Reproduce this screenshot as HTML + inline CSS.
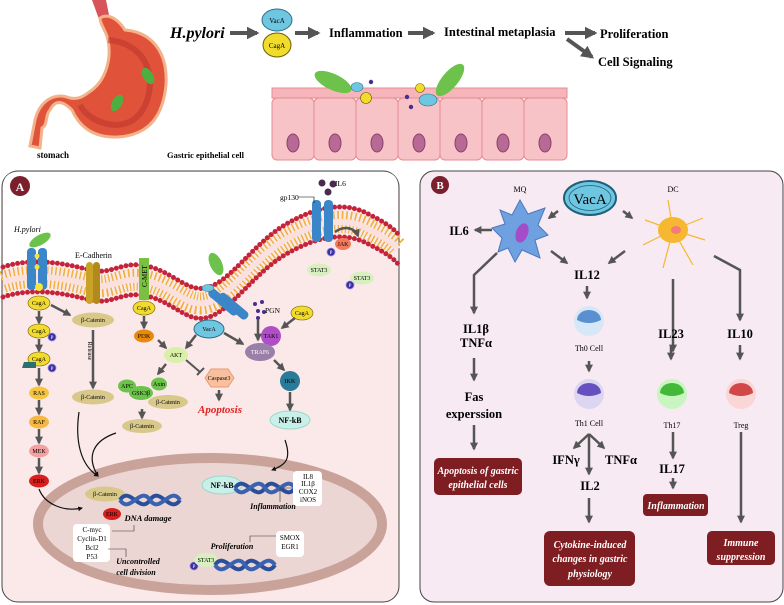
<!DOCTYPE html>
<html><head><meta charset="utf-8"><style>
body{margin:0;background:#fff}
svg{display:block}
text{font-family:"Liberation Serif",serif}
.b{font-weight:bold}
.s{font-size:7px;text-anchor:middle}
</style></head><body>
<svg width="784" height="605" viewBox="0 0 784 605" xmlns="http://www.w3.org/2000/svg">
<defs>
<marker id="ah" viewBox="0 0 10 10" refX="8" refY="5" markerWidth="3.2" markerHeight="3.2" orient="auto"><path d="M0,0L10,5L0,10z" fill="#555"/></marker>
<marker id="ak" viewBox="0 0 10 10" refX="8" refY="5" markerWidth="4" markerHeight="4" orient="auto"><path d="M0,0L10,5L0,10z" fill="#111"/></marker>
<g id="dna"><path d="M0,10 C10,-5 20,25 30,10 C40,-5 50,25 60,10" fill="none" stroke="#2a4f9a" stroke-width="4"/><path d="M0,10 C10,25 20,-5 30,10 C40,25 50,-5 60,10" fill="none" stroke="#3a62b0" stroke-width="4"/></g>
</defs>

<!-- TOP: stomach -->
<path d="M92,0 L106,0 L110,20 L100,22 Z" fill="#d9535a"/>
<path d="M100,18 C110,12 120,22 125,30 C150,32 168,50 166,85 C163,115 150,135 118,137 C95,138 80,128 72,110 C62,100 55,100 50,110 C45,115 48,125 42,128 L40,148 L30,146 L35,120 C40,100 55,92 70,98 C80,100 85,95 92,90 C105,80 112,60 108,40 C106,30 100,25 100,18 Z" fill="#e0533a" stroke="#f2b38a" stroke-width="3"/>
<path d="M108,40 C130,42 150,55 150,85 C148,110 135,125 115,125 C98,124 85,115 80,105" fill="none" stroke="#b8322a" stroke-width="6" opacity=".5"/>
<ellipse cx="148" cy="76" rx="5" ry="9" fill="#4caf3f" transform="rotate(-30 148 76)"/>
<ellipse cx="117" cy="103" rx="5" ry="9" fill="#4caf3f" transform="rotate(30 117 103)"/>
<text x="37" y="158" font-size="9" class="b">stomach</text>
<text x="167" y="158" font-size="8.5" class="b">Gastric epithelial cell</text>

<text x="170" y="38" font-size="16" font-weight="bold" font-style="italic">H.pylori</text>
<path d="M230,33 L257,33" stroke="#555" stroke-width="4" marker-end="url(#ah)"/>
<ellipse cx="277" cy="20" rx="15" ry="11" fill="#6ec6e0" stroke="#2b6f8a"/>
<text x="277" y="23" class="s" font-size="7">VacA</text>
<ellipse cx="277" cy="45" rx="14" ry="12" fill="#f1dc2e" stroke="#6b5c00"/>
<text x="277" y="48" class="s" font-size="7">CagA</text>
<path d="M295,33 L318,33" stroke="#555" stroke-width="4" marker-end="url(#ah)"/>
<text x="329" y="37" font-size="12.5" class="b">Inflammation</text>
<path d="M408,33 L433,33" stroke="#555" stroke-width="4" marker-end="url(#ah)"/>
<text x="444" y="36" font-size="12.5" class="b">Intestinal metaplasia</text>
<path d="M565,33 L595,33" stroke="#555" stroke-width="4" marker-end="url(#ah)"/>
<path d="M567,39 L592,57" stroke="#555" stroke-width="4" marker-end="url(#ah)"/>
<text x="600" y="38" font-size="12.5" class="b">Proliferation</text>
<text x="598" y="66" font-size="12.5" class="b">Cell Signaling</text>

<!-- epithelial -->
<g fill="#f8c3c6" stroke="#e58b92" stroke-width="1">
<rect x="272" y="88" width="295" height="10" fill="#f6b5bb"/>
<rect x="272" y="98" width="42" height="62" rx="5"/><rect x="314" y="98" width="42" height="62" rx="5"/><rect x="356" y="98" width="42" height="62" rx="5"/><rect x="398" y="98" width="42" height="62" rx="5"/><rect x="440" y="98" width="42" height="62" rx="5"/><rect x="482" y="98" width="42" height="62" rx="5"/><rect x="524" y="98" width="43" height="62" rx="5"/>
</g>
<g fill="#b86a96" stroke="#8c3f6c"><ellipse cx="293" cy="143" rx="6" ry="9"/><ellipse cx="335" cy="143" rx="6" ry="9"/><ellipse cx="377" cy="143" rx="6" ry="9"/><ellipse cx="419" cy="143" rx="6" ry="9"/><ellipse cx="461" cy="143" rx="6" ry="9"/><ellipse cx="503" cy="143" rx="6" ry="9"/><ellipse cx="545" cy="143" rx="6" ry="9"/></g>
<ellipse cx="333" cy="82" rx="20" ry="8" fill="#6cc24a" transform="rotate(25 333 82)"/>
<ellipse cx="450" cy="80" rx="8" ry="20" fill="#6cc24a" transform="rotate(40 450 80)"/>
<ellipse cx="357" cy="87" rx="6" ry="4.5" fill="#6ec6e0" stroke="#2b6f8a" stroke-width=".6"/>
<circle cx="366" cy="98" r="5.5" fill="#f1dc2e" stroke="#6b5c00" stroke-width=".6"/>
<ellipse cx="428" cy="100" rx="9" ry="6" fill="#6ec6e0" stroke="#2b6f8a" stroke-width=".6"/>
<circle cx="420" cy="88" r="4.5" fill="#f1dc2e" stroke="#6b5c00" stroke-width=".6"/>
<g fill="#4a2b90"><circle cx="371" cy="82" r="2.2"/><circle cx="407" cy="97" r="2.2"/><circle cx="411" cy="107" r="2.2"/></g>

<!-- PANEL A -->
<rect x="2" y="171" width="397" height="431" rx="16" fill="#fbe9e9" stroke="#444" stroke-width="1"/>
<path d="M3,267 C30,258 60,262 90,270 C110,275 120,263 140,265 C170,268 185,292 205,288 C230,284 255,240 290,222 C315,208 345,200 370,215 C385,222 395,230 398,234 L398,185 C398,176 390,172 385,172 L17,172 C8,172 3,178 3,187 Z" fill="#fff"/>
<path d="M3,267 C30,258 60,262 90,270 C110,275 120,263 140,265 C170,268 185,292 205,288 C230,284 255,240 290,222 C315,208 345,200 370,215 C385,222 395,230 398,234" fill="none" stroke="#f0b040" stroke-width="22" stroke-dasharray="1.5 2.5" transform="translate(0,15)"/>
<path d="M3,267 C30,258 60,262 90,270 C110,275 120,263 140,265 C170,268 185,292 205,288 C230,284 255,240 290,222 C315,208 345,200 370,215 C385,222 395,230 398,234" fill="none" stroke="#fbe0e0" stroke-width="6" transform="translate(0,15)"/>
<path d="M3,267 C30,258 60,262 90,270 C110,275 120,263 140,265 C170,268 185,292 205,288 C230,284 255,240 290,222 C315,208 345,200 370,215 C385,222 395,230 398,234" fill="none" stroke="#c4233a" stroke-width="5" stroke-linecap="round" stroke-dasharray="0 5"/>
<path d="M3,267 C30,258 60,262 90,270 C110,275 120,263 140,265 C170,268 185,292 205,288 C230,284 255,240 290,222 C315,208 345,200 370,215 C385,222 395,230 398,234" fill="none" stroke="#c4233a" stroke-width="5" stroke-linecap="round" stroke-dasharray="0 5" transform="translate(0,30)"/>
<circle cx="20" cy="186" r="10" fill="#7a1f2b"/><text x="20" y="191" font-size="12" class="b" fill="#fff" text-anchor="middle">A</text>

<!-- nucleus -->
<ellipse cx="210" cy="524" rx="172" ry="66" fill="#ecd6d3" stroke="#c9a39a" stroke-width="10"/>

<!-- receptors -->
<rect x="27" y="248" width="9" height="42" rx="4" fill="#3a86c8"/><rect x="38" y="248" width="9" height="42" rx="4" fill="#3a86c8"/>
<circle cx="37" cy="256" r="2.5" fill="#f5e23a"/><circle cx="37" cy="267" r="2.5" fill="#f5e23a"/><circle cx="39" cy="287" r="4" fill="#f5e23a"/>
<ellipse cx="40" cy="240" rx="12" ry="5" fill="#6cc24a" transform="rotate(-30 40 240)"/>
<text x="14" y="232" font-size="8" font-style="italic">H.pylori</text>
<text x="75" y="258" font-size="8">E-Cadherin</text>
<rect x="86" y="262" width="7" height="42" rx="3.5" fill="#c9a227"/><rect x="93" y="262" width="7" height="42" rx="3.5" fill="#b08a1a"/>
<rect x="139" y="258" width="10" height="42" fill="#7ac142"/>
<text x="147" y="287" font-size="7" transform="rotate(-90 147 287)">C-MET</text>
<rect x="312" y="200" width="9" height="42" rx="4" fill="#3a86c8"/><rect x="324" y="200" width="9" height="42" rx="4" fill="#3a86c8"/>
<g fill="#4a2b4f"><circle cx="322" cy="183" r="3.5"/><circle cx="328" cy="192" r="3.5"/><circle cx="333" cy="184" r="3.5"/></g>
<text x="335" y="186" font-size="7.5">IL6</text><text x="280" y="200" font-size="7.5">gp130</text>
<path d="M298,197 L314,197 L314,203" stroke="#000" fill="none" stroke-width=".6"/>
<rect x="216" y="286" width="9" height="36" rx="4" fill="#3a86c8" transform="rotate(-50 220 300)"/>
<rect x="226" y="290" width="9" height="36" rx="4" fill="#3a86c8" transform="rotate(-50 230 304)"/>
<ellipse cx="216" cy="264" rx="6" ry="12" fill="#6cc24a" transform="rotate(-25 216 264)"/>
<ellipse cx="208" cy="288" rx="6" ry="3.5" fill="#6ec6e0" stroke="#2b6f8a" stroke-width=".5"/>
<g fill="#4a2b90"><circle cx="255" cy="304" r="2"/><circle cx="262" cy="302" r="2"/><circle cx="258" cy="311" r="2"/><circle cx="264" cy="312" r="2"/><circle cx="258" cy="318" r="2"/></g>
<text x="265" y="313" font-size="7.5">PGN</text>

<g font-size="6" text-anchor="middle">
<g fill="#f1dc2e" stroke="#6b5c00" stroke-width=".6"><ellipse cx="39" cy="303" rx="11" ry="7"/><ellipse cx="39" cy="331" rx="11" ry="7"/><ellipse cx="39" cy="359" rx="11" ry="7"/><ellipse cx="144" cy="308" rx="11" ry="7"/><ellipse cx="302" cy="313" rx="11" ry="7"/></g>
<text x="39" y="305">CagA</text><text x="39" y="333">CagA</text><text x="39" y="361">CagA</text><text x="144" y="310">CagA</text><text x="302" y="315">CagA</text>
<g fill="#3b2fa0" stroke="#9a8be0" stroke-width=".8"><circle cx="52" cy="337" r="4"/><circle cx="52" cy="368" r="4"/><circle cx="331" cy="252" r="4"/><circle cx="350" cy="285" r="4"/><circle cx="194" cy="566" r="4"/></g>
<g fill="#fff" font-size="5"><text x="52" y="339">P</text><text x="52" y="370">P</text><text x="331" y="254">P</text><text x="350" y="287">P</text><text x="194" y="568">P</text></g>
<path d="M22,368 h14 v-6 h-12 z" fill="#2b6f6f"/>
<ellipse cx="39" cy="393" rx="10" ry="6.5" fill="#f5c542"/><text x="39" y="395">RAS</text>
<ellipse cx="39" cy="422" rx="10" ry="6.5" fill="#f5b842"/><text x="39" y="424">RAF</text>
<ellipse cx="39" cy="451" rx="10" ry="6.5" fill="#f5a0a0"/><text x="39" y="453">MEK</text>
<ellipse cx="39" cy="481" rx="10" ry="6.5" fill="#d81e1e"/><text x="39" y="483">ERK</text>
<g fill="#d8c98a"><ellipse cx="93" cy="320" rx="21" ry="7.5"/><ellipse cx="93" cy="397" rx="21" ry="7.5"/><ellipse cx="168" cy="402" rx="20" ry="7"/><ellipse cx="142" cy="426" rx="20" ry="7"/><ellipse cx="105" cy="494" rx="20" ry="7.5"/></g>
<text x="93" y="322">β-Catenin</text><text x="93" y="399">β-Catenin</text><text x="168" y="404">β-Catenin</text><text x="142" y="428">β-Catenin</text><text x="105" y="496">β-Catenin</text>
<text x="88" y="351" transform="rotate(90 88 351)">Release</text>
<ellipse cx="144" cy="336" rx="10" ry="6.5" fill="#e8890c"/><text x="144" y="338">PI3K</text>
<ellipse cx="176" cy="355" rx="12" ry="8" fill="#d8f0a8"/><text x="176" y="357">AKT</text>
<g fill="#6cc24a"><ellipse cx="127" cy="386" rx="9" ry="6.5"/><ellipse cx="159" cy="384" rx="8" ry="6.5"/><ellipse cx="141" cy="393" rx="12" ry="7"/></g>
<text x="127" y="388">APC</text><text x="159" y="386">Axin</text><text x="141" y="395">GSK3β</text>
<polygon points="205,378 211,369 228,369 234,378 228,387 211,387" fill="#f9c0a0" stroke="#e89a70"/><text x="219" y="380">Caspase3</text>
<ellipse cx="209" cy="329" rx="15" ry="9" fill="#6ec6e0" stroke="#2b6f8a"/><text x="209" y="331">VacA</text>
<circle cx="271" cy="336" r="10" fill="#b04ec8"/><text x="271" y="338">TAK1</text>
<ellipse cx="260" cy="352" rx="15" ry="9" fill="#9a7fa8"/><text x="260" y="354" fill="#fff">TRAF6</text>
<circle cx="290" cy="381" r="10" fill="#2a7a9a"/><text x="290" y="383">IKK</text>
<ellipse cx="290" cy="420" rx="20" ry="9" fill="#c8f0e8" stroke="#9ad8cc"/><text x="290" y="423" font-size="8" class="b">NF-kB</text>
<ellipse cx="222" cy="485" rx="20" ry="9" fill="#c8f0e8" stroke="#9ad8cc"/><text x="222" y="488" font-size="8" class="b">NF-kB</text>
<ellipse cx="343" cy="244" rx="8" ry="6" fill="#f47a5a"/><text x="343" y="246">JAK</text>
<ellipse cx="319" cy="270" rx="12" ry="6.5" fill="#d8f0c0"/><text x="319" y="272">STAT3</text>
<ellipse cx="362" cy="278" rx="12" ry="6.5" fill="#d8f0c0"/><text x="362" y="280">STAT3</text>
<ellipse cx="206" cy="560" rx="12" ry="7" fill="#d8f0c0"/><text x="206" y="562">STAT3</text>
<ellipse cx="112" cy="514" rx="9" ry="6" fill="#d81e1e"/><text x="112" y="516">ERK</text>
</g>
<text x="220" y="413" font-size="11" fill="#e02020" font-style="italic" font-weight="bold" text-anchor="middle">Apoptosis</text>
<path d="M335,232 C345,225 355,228 358,236" fill="none" stroke="#555" stroke-width="2.5" marker-end="url(#ah)"/>

<g stroke="#555" stroke-width="2.5" fill="none" marker-end="url(#ah)">
<path d="M39,311 v12"/><path d="M39,339 v12"/><path d="M39,368 v17"/><path d="M39,400 v14"/><path d="M39,429 v14"/><path d="M39,458 v15"/>
<path d="M51,305 L70,315"/><path d="M93,330 v58"/><path d="M144,316 v12"/><path d="M158,340 L166,348"/><path d="M196,335 L186,348"/><path d="M166,364 L158,374"/><path d="M142,409 v9"/>
<path d="M219,390 v10"/><path d="M224,333 L243,344"/><path d="M258,320 v20"/><path d="M295,318 L282,328"/><path d="M274,360 L284,370"/><path d="M290,392 v18"/>
</g>
<path d="M186,360 L200,372 M197,375 L204,368" stroke="#555" stroke-width="2" fill="none"/>
<g stroke="#111" stroke-width="1.2" fill="none" marker-end="url(#ak)">
<path d="M79,412 C75,440 80,465 98,476"/><path d="M116,433 C95,440 85,455 98,476"/><path d="M39,489 C45,505 65,512 82,508"/><path d="M285,440 C292,460 285,465 272,470"/>
</g>
<use href="#dna" x="120" y="490"/><use href="#dna" x="235" y="478"/><use href="#dna" x="215" y="555"/>
<text x="148" y="521" font-size="8.5" font-weight="bold" font-style="italic" text-anchor="middle">DNA damage</text>
<text x="273" y="509" font-size="8" font-weight="bold" font-style="italic" text-anchor="middle">Inflammation</text>
<text x="232" y="549" font-size="8" font-weight="bold" font-style="italic" text-anchor="middle">Proliferation</text>
<text x="138" y="564" font-size="8" font-weight="bold" font-style="italic" text-anchor="middle">Uncontrolled</text>
<text x="136" y="575" font-size="8" font-weight="bold" font-style="italic" text-anchor="middle">cell division</text>
<rect x="73" y="524" width="37" height="38" rx="4" fill="#fff"/>
<g font-size="7" text-anchor="middle"><text x="92" y="532">C-myc</text><text x="92" y="541">Cyclin-D1</text><text x="92" y="550">Bcl2</text><text x="92" y="559">P53</text></g>
<rect x="293" y="471" width="29" height="35" rx="4" fill="#fff"/>
<g font-size="7" text-anchor="middle"><text x="308" y="479">IL8</text><text x="308" y="486">IL1β</text><text x="308" y="494">COX2</text><text x="308" y="502">iNOS</text></g>
<rect x="276" y="531" width="28" height="26" rx="4" fill="#fff"/>
<g font-size="7" text-anchor="middle"><text x="290" y="540">SMOX</text><text x="290" y="549">EGR1</text></g>
<g stroke="#333" stroke-width=".6" fill="none"><path d="M112,531 h22 v-6"/><path d="M108,549 h18 v8"/><path d="M292,488 h-12 v14"/><path d="M276,536 h-26 v6"/></g>

<!-- PANEL B -->
<rect x="420" y="171" width="363" height="431" rx="14" fill="#f7eaf2" stroke="#444" stroke-width="1"/>
<circle cx="440" cy="185" r="9" fill="#7a1f2b"/><text x="440" y="189" font-size="11" class="b" fill="#fff" text-anchor="middle">B</text>
<ellipse cx="590" cy="198" rx="26" ry="17" fill="#6ec6e0" stroke="#1f5f7a" stroke-width="2"/>
<ellipse cx="590" cy="198" rx="21" ry="12.5" fill="none" stroke="#1f5f7a" stroke-width=".8"/>
<text x="590" y="204" font-size="15" text-anchor="middle">VacA</text>
<text x="520" y="192" font-size="8" text-anchor="middle">MQ</text><text x="673" y="192" font-size="8" text-anchor="middle">DC</text>
<path d="M500,210 L512,215 L520,200 L528,214 L545,208 L538,225 L548,235 L535,240 L540,258 L522,250 L515,262 L508,248 L498,252 L502,238 L492,228 L505,224 Z" fill="#6fa0e0" stroke="#4a78c0"/>
<ellipse cx="522" cy="233" rx="6" ry="10" fill="#a54cc8" transform="rotate(20 522 233)"/>
<g stroke="#f5b830" stroke-width="1.2"><path d="M673,230 l-28,-10 M673,230 l30,-12 M673,230 l-30,15 M673,230 l20,35 M673,230 l-10,38 M673,230 l32,10 M673,230 l-5,-30"/></g>
<ellipse cx="673" cy="230" rx="15" ry="13" fill="#f5b830"/><ellipse cx="676" cy="230" rx="5" ry="4" fill="#f57a7a"/>
<g stroke="#555" stroke-width="2.5" fill="none" marker-end="url(#ah)">
<path d="M558,211 L549,218"/><path d="M623,211 L632,218"/><path d="M492,230 H475"/><path d="M551,251 L567,263"/><path d="M625,251 L609,263"/>
<path d="M497,253 L474,275 V313"/><path d="M587,286 v12"/><path d="M589,361 v10"/><path d="M474,358 v22"/><path d="M474,425 v24"/>
<path d="M589,434 L574,448"/><path d="M589,434 L604,448"/><path d="M589,434 V474"/><path d="M589,498 v24"/>
<path d="M673,279 v72"/><path d="M671,345 v14"/><path d="M673,432 v26"/><path d="M673,478 v10"/>
<path d="M714,256 L740,270 V320"/><path d="M740,345 v14"/><path d="M741,432 V522"/>
</g>
<g font-size="12.5" class="b" text-anchor="middle">
<text x="459" y="235">IL6</text><text x="587" y="279">IL12</text><text x="476" y="333">IL1β</text><text x="476" y="347">TNFα</text>
<text x="474" y="401">Fas</text><text x="474" y="418">experssion</text><text x="566" y="464">IFNγ</text><text x="621" y="464">TNFα</text>
<text x="590" y="490">IL2</text><text x="671" y="338">IL23</text><text x="740" y="338">IL10</text><text x="672" y="473">IL17</text>
</g>
<g font-size="8" text-anchor="middle"><text x="589" y="351">Th0 Cell</text><text x="589" y="426">Th1 Cell</text><text x="672" y="428">Th17</text><text x="741" y="428">Treg</text></g>
<circle cx="589" cy="321" r="15" fill="#d6e8f8"/><path d="M577,320 a12,10 0 0 1 24,0 q-12,6 -24,0z" fill="#5a8fd0"/>
<circle cx="589" cy="394" r="15" fill="#ddd6f2"/><path d="M577,393 a12,10 0 0 1 24,0 q-12,6 -24,0z" fill="#6650c0"/>
<circle cx="672" cy="394" r="15" fill="#c8f5c0"/><path d="M660,393 a12,10 0 0 1 24,0 q-12,6 -24,0z" fill="#44b83a"/>
<circle cx="741" cy="394" r="15" fill="#fbd6d6"/><path d="M729,393 a12,10 0 0 1 24,0 q-12,6 -24,0z" fill="#d04848"/>
<g fill="#7e1d22"><rect x="434" y="458" width="88" height="37" rx="5"/><rect x="544" y="531" width="91" height="55" rx="6"/><rect x="643" y="494" width="65" height="22" rx="4"/><rect x="707" y="531" width="68" height="34" rx="5"/></g>
<g fill="#fff" font-size="10" font-weight="bold" font-style="italic" text-anchor="middle">
<text x="478" y="474">Apoptosis of gastric</text><text x="478" y="488">epithelial cells</text>
<text x="590" y="548">Cytokine-induced</text><text x="590" y="562">changes in gastric</text><text x="590" y="577">physiology</text>
<text x="676" y="509">Inflammation</text>
<text x="741" y="546">Immune</text><text x="741" y="560">suppression</text>
</g>
</svg>
</body></html>
